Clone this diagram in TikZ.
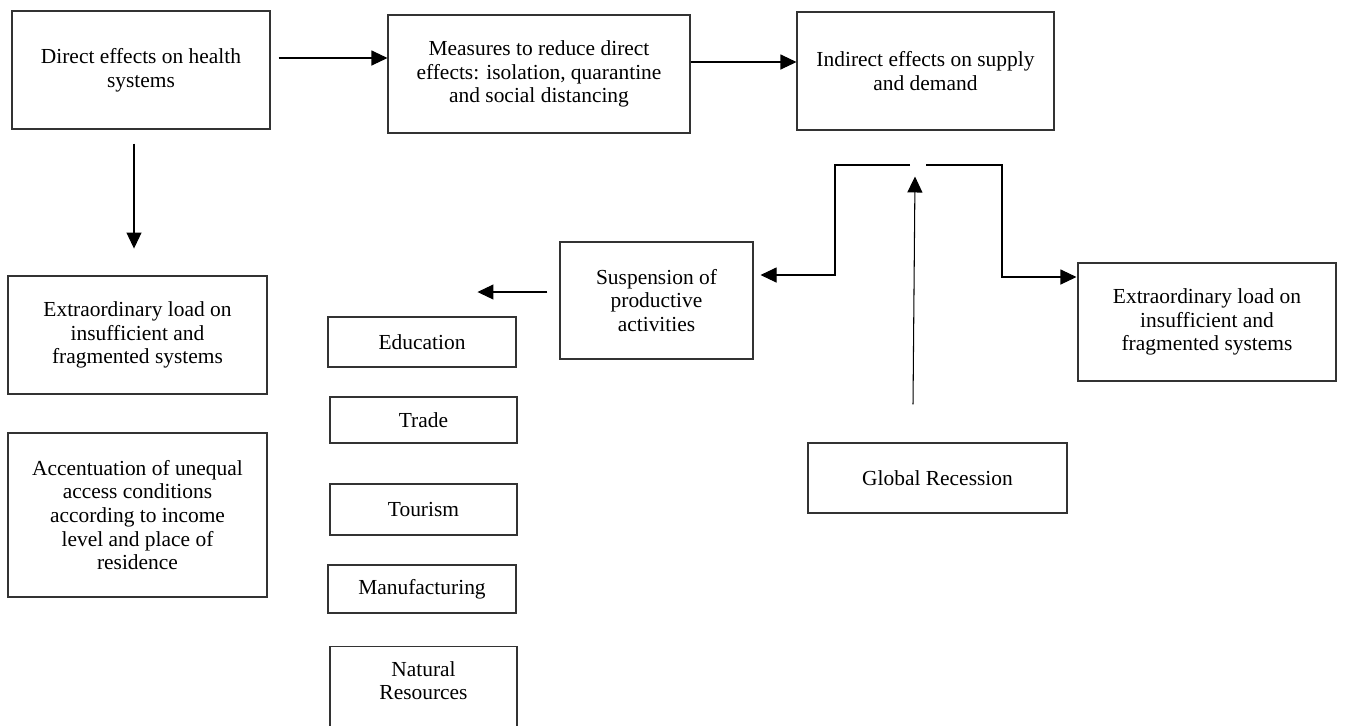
\documentclass[tikz,border=0pt]{standalone}
\usepackage{fontspec}
\setmainfont{Liberation Serif}
\usepackage{tikz}
\usetikzlibrary{arrows.meta}
\newlength{\unitx}
\newlength{\unity}
\makeatletter
\newcommand\GetUnit{%
  \pgfpointxy{1}{1}%
  \setlength{\unitx}{\pgf@x}%
  \setlength{\unity}{\pgf@y}%
}
\makeatother

\begin{document}
\begin{tikzpicture}
    [
      x=0.02cm,
      y=-0.02cm,
      font=\fontsize{12.2}{13.4}\selectfont,
      box/.style={rectangle,draw=black!80,line width=0.6pt,align=center,inner sep=0pt},
      arr/.style={-{Triangle[length=0.32cm,width=0.3cm]},line width=0.6pt},
    ]\GetUnit
    \useasboundingbox (0,0) rectangle (1345,725);

    \node at (141, 70)     [box, minimum width=258\unitx, minimum height=118\unitx] (direct) {Direct effects on health\\systems};
    \node at (539, 74)     [box, minimum width=302\unitx, minimum height=118\unitx] (meas) {Measures to reduce direct\\effects: isolation, quarantine\\and social distancing};
    \node at (925.5, 71)   [box, minimum width=257\unitx, minimum height=118\unitx] (indir) {Indirect effects on supply\\and demand};

    \node at (137.5, 335)  [box, minimum width=259\unitx, minimum height=118\unitx] (loadL) {Extraordinary load on\\insufficient and\\fragmented systems};
    \node at (137.5, 515)  [box, minimum width=259\unitx, minimum height=164\unitx] (accent) {Accentuation of unequal\\access conditions\\according to income\\level and place of\\residence};

    \node at (656.5, 300.5) [box, minimum width=193\unitx, minimum height=117\unitx] (susp) {Suspension of\\productive\\activities};

    \node at (422, 342)    [box, minimum width=188\unitx, minimum height=50\unitx] (educ) {Education};
    \node at (423.5, 420)  [box, minimum width=187\unitx, minimum height=46\unitx] (trade) {Trade};
    \node at (423.5, 509.5) [box, minimum width=187\unitx, minimum height=51\unitx] (tour) {Tourism};
    \node at (422, 589)    [box, minimum width=188\unitx, minimum height=48\unitx] (manuf) {Manufacturing};
    \node at (423.5, 646)  [box, anchor=north, minimum width=187\unitx, inner ysep=15\unitx, text depth=90\unitx] (natural) {Natural\\Resources};

    \node at (937.5, 478)  [box, minimum width=259\unitx, minimum height=70\unitx] (glob) {Global Recession};
    \node at (1207, 322)   [box, minimum width=258\unitx, minimum height=118\unitx] (loadR) {Extraordinary load on\\insufficient and\\fragmented systems};

    \coordinate (splitL) at (910, 165);
    \coordinate (splitR) at (926, 165);
    \coordinate (cornL) at (835, 165);
    \coordinate (cornR) at (1002, 165);

    \draw[arr] ([shift={(8,-12)}]direct.east) coordinate (a1) -- (a1 -| meas.west);
    \draw[arr] ([shift={(0,-12)}]meas.east) coordinate (a2) -- (a2 -| indir.west);
    \draw[arr] ([shift={(-7,14)}]direct.south) -- ++(0,105);
    \draw[arr] ([shift={(-12,-8.5)}]susp.west) -- ++(-70,0);
    \draw[arr] (splitL) -- (cornL) |- ([shift={(7,-25.5)}]susp.east);
    \draw[arr] (splitR) -- (cornR) |- ([shift={(-1,-45)}]loadR.west);
    \draw[arr] ([shift={(-24.5,-38)}]glob.north) -- ++(2,-228);
  \end{tikzpicture}
\end{document}
